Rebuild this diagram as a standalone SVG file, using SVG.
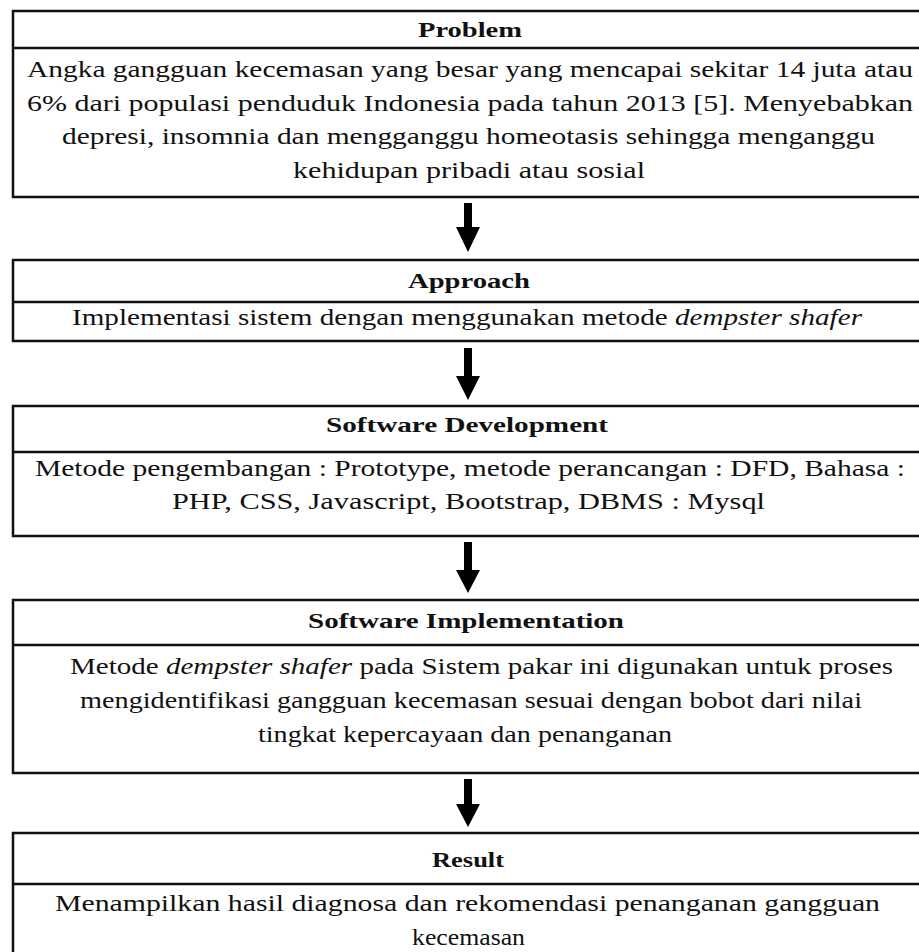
<svg xmlns="http://www.w3.org/2000/svg" width="919" height="952" viewBox="0 0 919 952">
<style>
.box{fill:#fff;stroke:#111;stroke-width:2.5}
.div{stroke:#111;stroke-width:2.5}
.h{font-family:"Liberation Serif","Times New Roman",serif;font-size:22px;font-weight:bold;fill:#111}
.t{font-family:"Liberation Serif","Times New Roman",serif;font-size:22.5px;fill:#111}
.i{font-style:italic}
.arr{fill:#000}
</style>
<rect width="919" height="952" fill="#fff"/>
<g id="problem">
<rect class="box" x="13" y="11" width="910" height="186"/>
<line class="div" x1="13" y1="48" x2="923" y2="48"/>
<text class="h" x="418" y="37" textLength="104" lengthAdjust="spacingAndGlyphs">Problem</text>
<text class="t" x="27" y="77" textLength="886" lengthAdjust="spacingAndGlyphs">Angka gangguan kecemasan yang besar yang mencapai sekitar 14 juta atau</text>
<text class="t" x="27" y="111" textLength="886" lengthAdjust="spacingAndGlyphs">6% dari populasi penduduk Indonesia pada tahun 2013 [5]. Menyebabkan</text>
<text class="t" x="62" y="144" textLength="813" lengthAdjust="spacingAndGlyphs">depresi, insomnia dan mengganggu homeotasis sehingga menganggu</text>
<text class="t" x="293" y="178" textLength="352" lengthAdjust="spacingAndGlyphs">kehidupan pribadi atau sosial</text>
</g>
<g id="approach">
<rect class="box" x="13" y="260" width="910" height="81"/>
<line class="div" x1="13" y1="302" x2="923" y2="302"/>
<text class="h" x="408" y="288" textLength="122" lengthAdjust="spacingAndGlyphs">Approach</text>
<text class="t" x="72" y="325" textLength="790" lengthAdjust="spacingAndGlyphs">Implementasi sistem dengan menggunakan metode <tspan class="i">dempster shafer</tspan></text>
</g>
<g id="software-development">
<rect class="box" x="13" y="406" width="910" height="130"/>
<line class="div" x1="13" y1="452" x2="923" y2="452"/>
<text class="h" x="326" y="432" textLength="282" lengthAdjust="spacingAndGlyphs">Software Development</text>
<text class="t" x="35" y="476" textLength="870" lengthAdjust="spacingAndGlyphs">Metode pengembangan : Prototype, metode perancangan : DFD, Bahasa :</text>
<text class="t" x="172" y="509" textLength="593" lengthAdjust="spacingAndGlyphs">PHP, CSS, Javascript, Bootstrap, DBMS : Mysql</text>
</g>
<g id="software-implementation">
<rect class="box" x="13" y="600" width="910" height="173"/>
<line class="div" x1="13" y1="645" x2="923" y2="645"/>
<text class="h" x="308" y="628" textLength="316" lengthAdjust="spacingAndGlyphs">Software Implementation</text>
<text class="t" x="70" y="674" textLength="823" lengthAdjust="spacingAndGlyphs">Metode <tspan class="i">dempster shafer</tspan> pada Sistem pakar ini digunakan untuk proses</text>
<text class="t" x="80" y="708" textLength="782" lengthAdjust="spacingAndGlyphs">mengidentifikasi gangguan kecemasan sesuai dengan bobot dari nilai</text>
<text class="t" x="258" y="742" textLength="414" lengthAdjust="spacingAndGlyphs">tingkat kepercayaan dan penanganan</text>
</g>
<g id="result">
<rect class="box" x="13" y="833" width="910" height="130"/>
<line class="div" x1="13" y1="884" x2="923" y2="884"/>
<text class="h" x="432" y="867" textLength="72" lengthAdjust="spacingAndGlyphs">Result</text>
<text class="t" x="55" y="911" textLength="825" lengthAdjust="spacingAndGlyphs">Menampilkan hasil diagnosa dan rekomendasi penanganan gangguan</text>
<text class="t" x="412" y="945" textLength="113" lengthAdjust="spacingAndGlyphs">kecemasan</text>
</g>
<g id="connectors">
<path class="arr" d="M464 203 H472 V227 H480 L468 252 L456 227 H464 Z"/>
<path class="arr" d="M464 348 H472 V376 H480 L468 400 L456 376 H464 Z"/>
<path class="arr" d="M464 542 H472 V570 H480 L468 593 L456 570 H464 Z"/>
<path class="arr" d="M464 779 H472 V804 H480 L468 827 L456 804 H464 Z"/>
</g>
</svg>
